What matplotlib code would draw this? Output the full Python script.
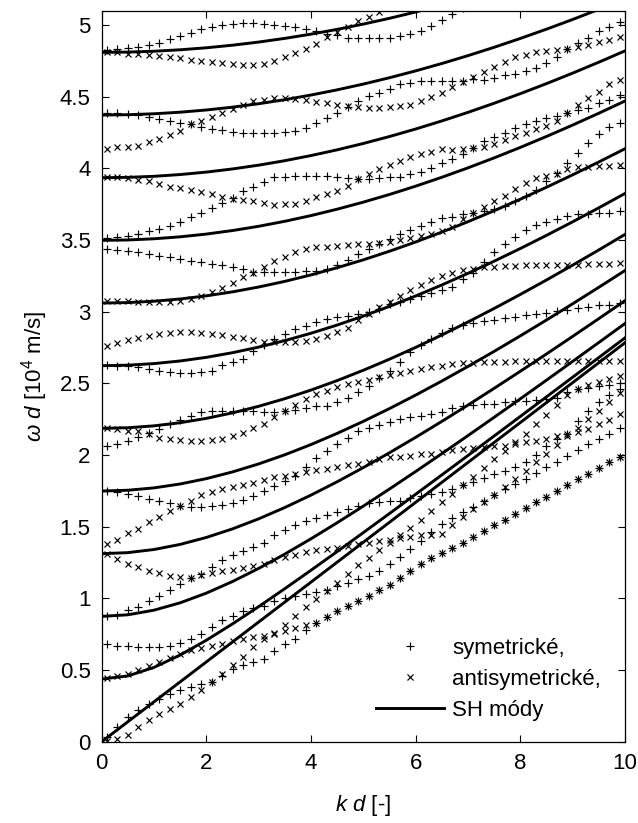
import numpy as np
import matplotlib.pyplot as plt

plt.rcParams['font.family'] = ['Liberation Sans', 'DejaVu Sans']
plt.rcParams['mathtext.fontset'] = 'custom'
plt.rcParams['mathtext.rm'] = 'Liberation Sans'
plt.rcParams['mathtext.it'] = 'Liberation Sans:italic'
plt.rcParams['font.size'] = 16

# kd samples where the Lamb roots were found
kd = np.round(0.1 + 0.2 * np.arange(50), 1)

# symmetric Lamb modes, omega*d [1e4 m/s]
s0 = [0.03, 0.10, 0.17, 0.22, 0.26, 0.30, 0.335, 0.36, 0.38, 0.40,
      0.42, 0.46, 0.51, 0.535, 0.555, 0.58, 0.63, 0.68, 0.72, 0.78,
      0.83, 0.87, 0.91, 0.945, 0.98, 1.02, 1.06, 1.095, 1.14, 1.19,
      1.24, 1.28, 1.32, 1.35, 1.39, 1.43, 1.47, 1.51, 1.55, 1.59,
      1.63, 1.67, 1.71, 1.75, 1.79, 1.83, 1.87, 1.91, 1.95, 1.99]
s_l1 = [0.683, 0.671, 0.665, 0.662, 0.662, 0.662, 0.668, 0.69, 0.72, 0.75,
        0.80, 0.846, 0.88, 0.91, 0.93, 0.95, 0.985, 1.0, 1.016, 1.032,
        1.045, 1.058, 1.085, 1.108, 1.132, 1.155, 1.19, 1.24, 1.29, 1.345,
        1.40, 1.46, 1.52, 1.56, 1.60, 1.64, 1.68, 1.72, 1.76, 1.80,
        1.835, 1.875, 1.915, 1.955, 1.995, 2.035, 2.075, 2.11, 2.15, 2.19]
s_t1 = [0.876, 0.886, 0.916, 0.943, 0.985, 1.02, 1.06, 1.101, 1.141, 1.171,
        1.218, 1.27, 1.30, 1.329, 1.36, 1.39, 1.439, 1.48, 1.51, 1.537,
        1.56, 1.585, 1.606, 1.625, 1.645, 1.667, 1.675, 1.68, 1.683, 1.70,
        1.718, 1.73, 1.741, 1.765, 1.79, 1.815, 1.84, 1.865, 1.89, 1.915,
        1.955, 2.0, 2.06, 2.11, 2.15, 2.24, 2.31, 2.37, 2.42, 2.46]
s_t2 = [1.748, 1.74, 1.729, 1.712, 1.695, 1.68, 1.663, 1.648, 1.637, 1.637,
        1.644, 1.655, 1.667, 1.685, 1.713, 1.75, 1.787, 1.82, 1.857, 1.92,
        1.978, 2.03, 2.075, 2.12, 2.165, 2.19, 2.21, 2.23, 2.25, 2.264,
        2.275, 2.29, 2.30, 2.327, 2.34, 2.35, 2.355, 2.36, 2.37, 2.375,
        2.38, 2.385, 2.39, 2.40, 2.44, 2.46, 2.47, 2.48, 2.49, 2.50]
s_l2 = [2.062, 2.078, 2.10, 2.125, 2.155, 2.183, 2.218, 2.248, 2.271, 2.30,
        2.31, 2.31, 2.31, 2.31, 2.305, 2.30, 2.30, 2.31, 2.317, 2.33,
        2.34, 2.345, 2.369, 2.397, 2.44, 2.48, 2.54, 2.59, 2.65, 2.72,
        2.77, 2.81, 2.85, 2.89, 2.905, 2.92, 2.935, 2.945, 2.955, 2.965,
        2.975, 2.985, 2.995, 3.005, 3.015, 3.025, 3.035, 3.045, 3.05, 3.06]
s_t3 = [2.629, 2.625, 2.62, 2.613, 2.60, 2.59, 2.578, 2.574, 2.573, 2.578,
        2.59, 2.629, 2.652, 2.67, 2.729, 2.77, 2.81, 2.846, 2.879, 2.903,
        2.926, 2.95, 2.966, 2.973, 2.985, 2.996, 3.019, 3.054, 3.07, 3.09,
        3.113, 3.13, 3.153, 3.17, 3.23, 3.27, 3.345, 3.415, 3.47, 3.523,
        3.57, 3.607, 3.63, 3.65, 3.67, 3.68, 3.685, 3.69, 3.69, 3.70]
s_l3 = [3.438, 3.43, 3.425, 3.414, 3.40, 3.39, 3.38, 3.368, 3.356, 3.345,
        3.333, 3.33, 3.31, 3.298, 3.28, 3.275, 3.275, 3.275, 3.275, 3.282,
        3.287, 3.30, 3.33, 3.36, 3.40, 3.438, 3.47, 3.51, 3.54, 3.57,
        3.60, 3.63, 3.654, 3.663, 3.68, 3.69, 3.70, 3.72, 3.74, 3.77,
        3.81, 3.85, 3.91, 3.97, 4.04, 4.11, 4.18, 4.24, 4.29, 4.32]
s_t4 = [3.515, 3.524, 3.531, 3.543, 3.561, 3.577, 3.60, 3.624, 3.659, 3.687,
        3.724, 3.757, 3.796, 3.845, 3.873, 3.903, 3.938, 3.94, 3.945, 3.945,
        3.945, 3.945, 3.94, 3.935, 3.926, 3.93, 3.937, 3.94, 3.942, 3.96,
        3.979, 4.002, 4.035, 4.066, 4.10, 4.142, 4.19, 4.22, 4.25, 4.28,
        4.31, 4.33, 4.35, 4.368, 4.39, 4.407, 4.42, 4.46, 4.48, 4.51]
s_t5 = [4.384, 4.384, 4.38, 4.375, 4.36, 4.345, 4.33, 4.32, 4.31, 4.29,
        4.278, 4.266, 4.254, 4.247, 4.245, 4.245, 4.245, 4.252, 4.264, 4.28,
        4.315, 4.35, 4.384, 4.426, 4.468, 4.507, 4.53, 4.554, 4.589, 4.60,
        4.61, 4.61, 4.61, 4.612, 4.612, 4.626, 4.62, 4.633, 4.649, 4.66,
        4.677, 4.70, 4.733, 4.78, 4.833, 4.879, 4.914, 4.96, 4.988, 5.025]
s_l4 = [4.826, 4.832, 4.839, 4.848, 4.862, 4.878, 4.902, 4.925, 4.948, 4.972,
        4.988, 5.002, 5.007, 5.012, 5.012, 5.007, 5.002, 4.995, 4.984, 4.972,
        4.96, 4.942, 4.933, 4.914, 4.91, 4.91, 4.91, 4.914, 4.925, 4.937,
        4.96, 4.995, 5.035, 5.08, 5.12]

# antisymmetric Lamb modes
a0 = [0.003, 0.02, 0.05, 0.10, 0.15, 0.196, 0.23, 0.26, 0.31, 0.358,
      0.416, 0.474, 0.537, 0.59, 0.66, 0.72, 0.75, 0.77, 0.79, 0.815,
      0.83, 0.87, 0.91, 0.945, 0.98, 1.02, 1.06, 1.095, 1.14, 1.19,
      1.24, 1.28, 1.32, 1.35, 1.39, 1.43, 1.47, 1.51, 1.55, 1.59,
      1.63, 1.67, 1.71, 1.75, 1.79, 1.83, 1.87, 1.91, 1.95, 1.99]
a1 = [0.443, 0.457, 0.473, 0.497, 0.527, 0.555, 0.583, 0.614, 0.637, 0.653,
      0.667, 0.684, 0.70, 0.718, 0.73, 0.735, 0.755, 0.815, 0.88, 0.938,
      0.996, 1.055, 1.11, 1.17, 1.23, 1.281, 1.335, 1.39, 1.44, 1.49,
      1.55, 1.61, 1.67, 1.73, 1.79, 1.85, 1.91, 1.97, 2.03, 2.09,
      2.15, 2.22, 2.28, 2.35, 2.42, 2.46, 2.49, 2.51, 2.53, 2.55]
a_t2 = [1.311, 1.273, 1.24, 1.217, 1.194, 1.176, 1.157, 1.148, 1.141, 1.164,
        1.176, 1.188, 1.195, 1.211, 1.227, 1.241, 1.269, 1.288, 1.305, 1.324,
        1.336, 1.343, 1.352, 1.366, 1.38, 1.39, 1.40, 1.41, 1.42, 1.43,
        1.44, 1.445, 1.45, 1.51, 1.567, 1.625, 1.67, 1.72, 1.775, 1.83,
        1.89, 1.95, 2.01, 2.07, 2.13, 2.19, 2.25, 2.31, 2.37, 2.43]
a_l1 = [1.38, 1.41, 1.456, 1.485, 1.53, 1.57, 1.61, 1.645, 1.68, 1.72,
        1.745, 1.765, 1.775, 1.79, 1.808, 1.825, 1.848, 1.855, 1.87, 1.882,
        1.898, 1.905, 1.917, 1.928, 1.94, 1.955, 1.972, 1.984, 1.99, 1.995,
        2.005, 2.01, 2.02, 2.035, 2.045, 2.05, 2.055, 2.06, 2.066, 2.08,
        2.09, 2.10, 2.113, 2.136, 2.148, 2.16, 2.18, 2.218, 2.245, 2.29]
a_t3 = [2.19, 2.18, 2.17, 2.165, 2.15, 2.12, 2.11, 2.105, 2.10, 2.10,
        2.105, 2.115, 2.134, 2.157, 2.187, 2.22, 2.264, 2.31, 2.35, 2.388,
        2.427, 2.45, 2.473, 2.497, 2.513, 2.527, 2.543, 2.56, 2.575, 2.59,
        2.60, 2.613, 2.625, 2.635, 2.64, 2.645, 2.648, 2.65, 2.652, 2.654,
        2.655, 2.656, 2.657, 2.658, 2.658, 2.659, 2.66, 2.66, 2.66, 2.66]
a_l2 = [2.764, 2.78, 2.80, 2.815, 2.83, 2.845, 2.855, 2.86, 2.86, 2.855,
        2.845, 2.838, 2.827, 2.815, 2.805, 2.79, 2.79, 2.79, 2.79, 2.795,
        2.81, 2.83, 2.86, 2.89, 2.94, 2.985, 3.03, 3.07, 3.11, 3.15,
        3.19, 3.22, 3.25, 3.27, 3.29, 3.30, 3.31, 3.315, 3.32, 3.32,
        3.325, 3.325, 3.33, 3.33, 3.33, 3.33, 3.335, 3.335, 3.335, 3.34]
a_t4 = [3.073, 3.073, 3.072, 3.071, 3.07, 3.07, 3.07, 3.072, 3.087, 3.11,
        3.135, 3.165, 3.20, 3.24, 3.27, 3.31, 3.356, 3.385, 3.42, 3.44,
        3.45, 3.455, 3.46, 3.465, 3.47, 3.473, 3.48, 3.49, 3.50, 3.515,
        3.53, 3.545, 3.566, 3.59, 3.65, 3.69, 3.73, 3.77, 3.81, 3.857,
        3.896, 3.934, 3.95, 3.965, 3.996, 4.01, 4.01, 4.02, 4.02, 4.026]
a_t5 = [3.942, 3.94, 3.935, 3.92, 3.91, 3.895, 3.874, 3.865, 3.85, 3.834,
        3.82, 3.80, 3.79, 3.78, 3.77, 3.76, 3.747, 3.75, 3.755, 3.77,
        3.80, 3.82, 3.84, 3.88, 3.926, 3.96, 3.996, 4.025, 4.054, 4.078,
        4.10, 4.118, 4.135, 4.128, 4.135, 4.142, 4.15, 4.174, 4.20, 4.225,
        4.25, 4.275, 4.30, 4.333, 4.39, 4.444, 4.495, 4.537, 4.588, 4.62]
a_l3 = [4.135, 4.147, 4.152, 4.159, 4.182, 4.205, 4.235, 4.263, 4.31, 4.33,
        4.357, 4.385, 4.415, 4.445, 4.469, 4.478, 4.49, 4.49, 4.485, 4.477,
        4.465, 4.454, 4.445, 4.438, 4.43, 4.421, 4.421, 4.426, 4.435, 4.445,
        4.47, 4.496, 4.53, 4.57, 4.605, 4.64, 4.675, 4.71, 4.745, 4.775,
        4.795, 4.81, 4.82, 4.826, 4.835, 4.85, 4.865, 4.88, 4.895, 4.918]
a_t6 = [4.816, 4.81, 4.802, 4.798, 4.793, 4.786, 4.779, 4.77, 4.756, 4.75,
        4.74, 4.733, 4.728, 4.725, 4.723, 4.73, 4.751, 4.775, 4.803, 4.833,
        4.868, 4.915, 4.95, 4.984, 5.026, 5.054, 5.09, 5.13]

symmetric = [s0, s_l1, s_t1, s_t2, s_l2, s_t3, s_l3, s_t4, s_t5, s_l4]
antisymmetric = [a0, a1, a_t2, a_l1, a_t3, a_l2, a_t4, a_t5, a_l3, a_t6]

# SH modes, omega*d at kd = 0, 0.5, ..., 10
sh_kd = np.arange(0, 10.5, 0.5)
sh0 = [0.0, 0.1392, 0.2784, 0.4176, 0.5568, 0.6960, 0.8352, 0.9744, 1.1136, 1.2528,
       1.3920, 1.5312, 1.6704, 1.8096, 1.9488, 2.0880, 2.2272, 2.3664, 2.5056, 2.6448, 2.7840]
sh1 = [0.4373, 0.4589, 0.5184, 0.6047, 0.7080, 0.8220, 0.9427, 1.0680, 1.1964, 1.3269,
       1.4590, 1.5924, 1.7267, 1.8617, 1.9972, 2.1333, 2.2697, 2.4065, 2.5435, 2.6807, 2.8181]
sh2 = [0.8746, 0.8856, 0.9178, 0.9692, 1.0368, 1.1177, 1.2093, 1.3093, 1.4160, 1.5279,
       1.6440, 1.7634, 1.8855, 2.0099, 2.1361, 2.2638, 2.3928, 2.5229, 2.6539, 2.7857, 2.9182]
sh3 = [1.3119, 1.3193, 1.3411, 1.3768, 1.4252, 1.4851, 1.5552, 1.6342, 1.7208, 1.8140,
       1.9128, 2.0163, 2.1240, 2.2351, 2.3492, 2.4659, 2.5849, 2.7057, 2.8283, 2.9523, 3.0776]
sh4 = [1.7492, 1.7547, 1.7712, 1.7984, 1.8357, 1.8826, 1.9384, 2.0023, 2.0736, 2.1516,
       2.2355, 2.3247, 2.4187, 2.5168, 2.6187, 2.7239, 2.8320, 2.9427, 3.0558, 3.1709, 3.2879]
sh5 = [2.1865, 2.1909, 2.2041, 2.2260, 2.2563, 2.2946, 2.3406, 2.3938, 2.4537, 2.5200,
       2.5920, 2.6693, 2.7515, 2.8382, 2.9289, 3.0233, 3.1211, 3.2219, 3.3255, 3.4316, 3.5400]
sh6 = [2.6238, 2.6275, 2.6385, 2.6568, 2.6822, 2.7146, 2.7535, 2.7989, 2.8503, 2.9076,
       2.9702, 3.0379, 3.1104, 3.1873, 3.2684, 3.3532, 3.4416, 3.5333, 3.6280, 3.7255, 3.8256]
sh7 = [3.0611, 3.0642, 3.0737, 3.0894, 3.1113, 3.1392, 3.1730, 3.2124, 3.2574, 3.3075,
       3.3627, 3.4227, 3.4872, 3.5560, 3.6288, 3.7054, 3.7856, 3.8691, 3.9558, 4.0454, 4.1378]
sh8 = [3.4984, 3.5012, 3.5095, 3.5232, 3.5424, 3.5670, 3.5967, 3.6316, 3.6714, 3.7160,
       3.7652, 3.8188, 3.8767, 3.9387, 4.0046, 4.0741, 4.1472, 4.2236, 4.3031, 4.3856, 4.4710]
sh9 = [3.9357, 3.9382, 3.9455, 3.9578, 3.9749, 3.9968, 4.0233, 4.0545, 4.0902, 4.1303,
       4.1746, 4.2231, 4.2755, 4.3318, 4.3918, 4.4553, 4.5222, 4.5923, 4.6656, 4.7418, 4.8208]
sh10 = [4.3730, 4.3752, 4.3818, 4.3929, 4.4083, 4.4280, 4.4520, 4.4802, 4.5126, 4.5489,
        4.5892, 4.6333, 4.6812, 4.7326, 4.7876, 4.8459, 4.9075, 4.9722, 5.0400, 5.1106, 5.1840]
sh11 = [4.8103, 4.8123, 4.8183, 4.8284, 4.8424, 4.8604, 4.8823, 4.9080, 4.9375, 4.9708,
        5.0077, 5.0481, 5.0921, 5.1394, 5.1901, 5.2439, 5.3009, 5.3609, 5.4237, 5.4894, 5.5579]
sh_modes = [sh0, sh1, sh2, sh3, sh4, sh5, sh6, sh7, sh8, sh9, sh10, sh11]


def padded(vals):
    out = np.full(kd.size, np.nan)
    out[:len(vals)] = vals
    return out


fig = plt.figure(figsize=(6.38, 8.23), dpi=100)
ax = fig.add_axes([0.1594, 0.0988, 0.8202, 0.888])

mk = dict(ls='none', color='black', mew=0.85)
for i, m in enumerate(symmetric):
    ax.plot(kd, padded(m), marker='+', ms=6.2, label='symetrické,' if i == 0 else None, **mk)
for i, m in enumerate(antisymmetric):
    ax.plot(kd, padded(m), marker='x', ms=4.7, label='antisymetrické,' if i == 0 else None, **mk)

for i, m in enumerate(sh_modes):
    ax.plot(sh_kd, m, color='black', lw=2.1, label='SH módy' if i == 0 else None)

ax.set_xlim(0, 10)
ax.set_ylim(0, 5.1)
ax.set_xticks(np.arange(0, 11, 2))
ax.set_yticks(np.arange(0, 5.01, 0.5))
ax.set_yticklabels(['0', '0.5', '1', '1.5', '2', '2.5', '3', '3.5', '4', '4.5', '5'])
ax.tick_params(direction='in', top=True, right=True, length=5, width=0.8, pad=8)
for sp in ax.spines.values():
    sp.set_linewidth(0.9)

ax.set_xlabel(r'$k\ d$ [-]', labelpad=14)
ax.set_ylabel(r'$\omega\ d$ [10$^4$ m/s]', labelpad=7)

ax.legend(loc='lower left', bbox_to_anchor=(0.525, 0.028), frameon=False,
          handlelength=3.05, handletextpad=0.36, labelspacing=0.45, borderpad=0,
          borderaxespad=0)

fig.savefig('out.png', dpi=100)
